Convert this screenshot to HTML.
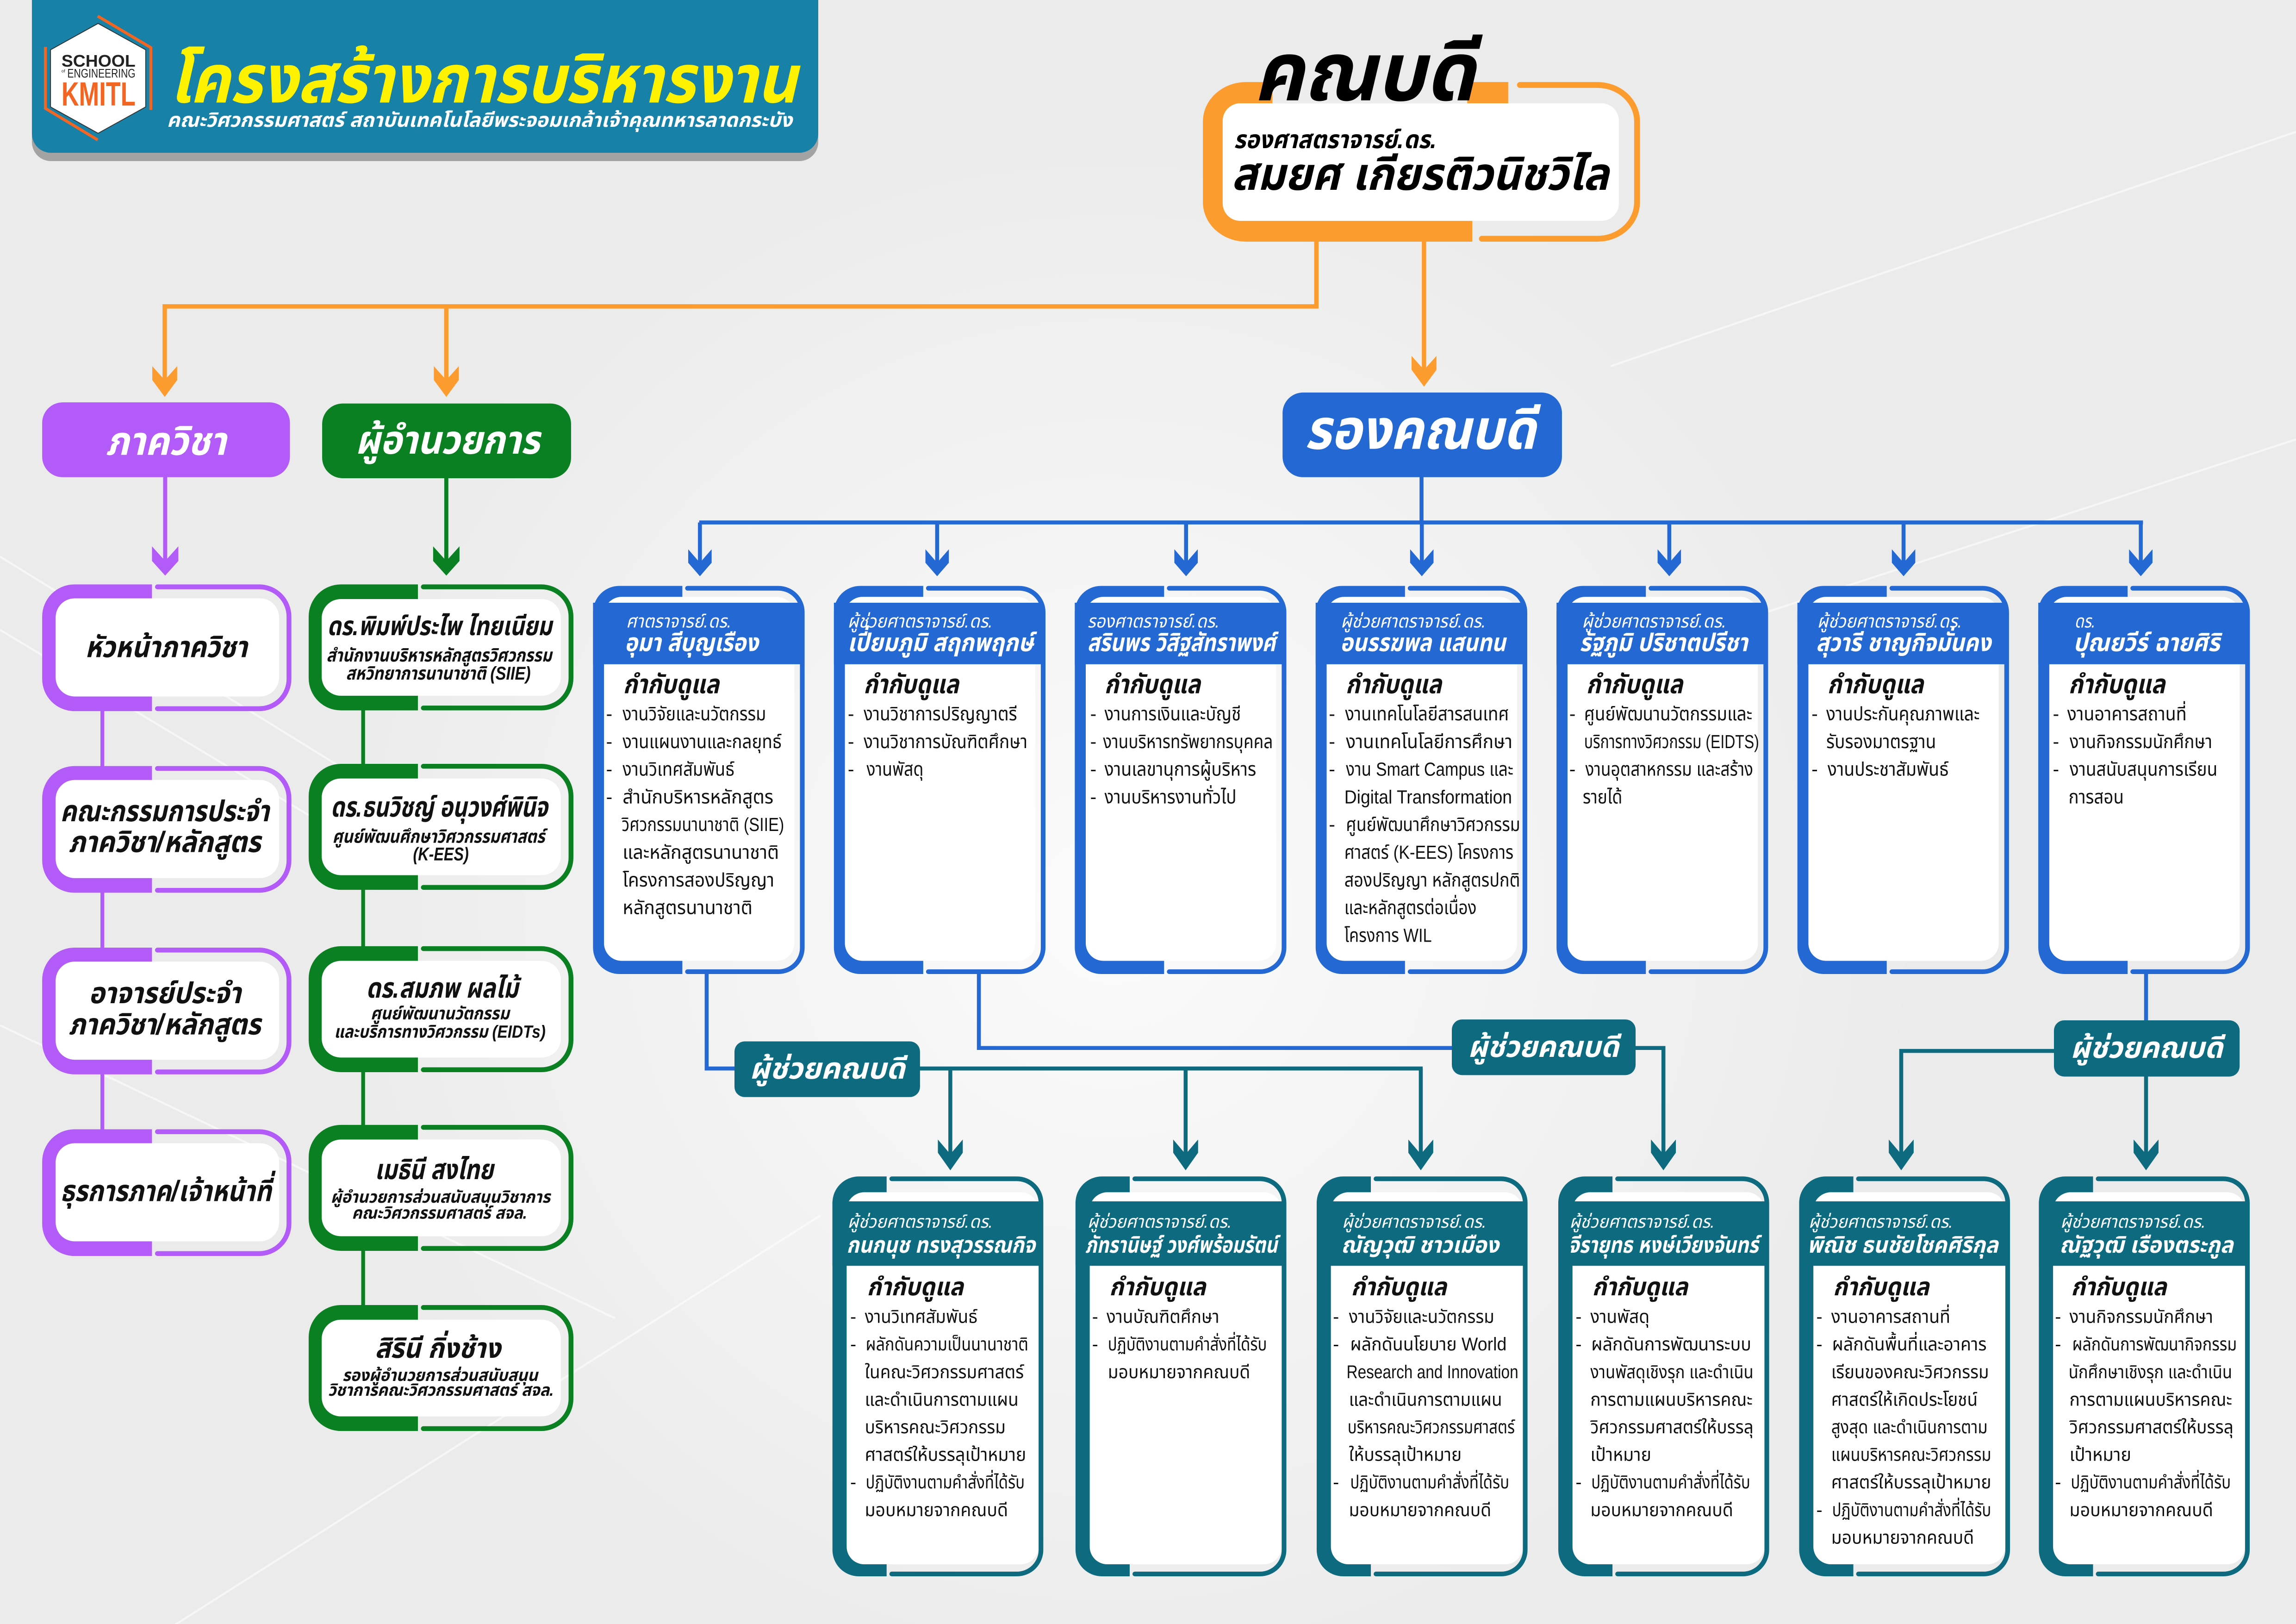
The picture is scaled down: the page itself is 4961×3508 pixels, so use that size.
<!DOCTYPE html>
<html><head><meta charset="utf-8"><title>โครงสร้างการบริหารงาน</title>
<style>
html,body{margin:0;padding:0;background:#ebebeb;}
body{width:4961px;height:3508px;overflow:hidden;}
svg{display:block;}
text{font-family:"Liberation Sans","Noto Sans Thai","Noto Sans Thai UI","Loma","Garuda","Waree","Norasi","Kinnari","Umpush",sans-serif;}
.b{font-weight:bold;font-style:italic;}
.i{font-style:italic;}
.w{fill:#ffffff;}
.k{fill:#111111;}
</style></head>
<body>
<svg xmlns="http://www.w3.org/2000/svg" xmlns:xlink="http://www.w3.org/1999/xlink" width="4961" height="3508" viewBox="0 0 1568 1108.75">
<defs>
<radialGradient id="g1" cx="760" cy="620" r="560" gradientUnits="userSpaceOnUse">
<stop offset="0" stop-color="#ffffff" stop-opacity="0.8"/>
<stop offset="1" stop-color="#ffffff" stop-opacity="0"/>
</radialGradient>
<g id="pc">
<path d="M75,0 H22 A22,22 0 0 0 0,22 V64.5 A22,22 0 0 0 22,86.5 H75 Z" fill="#b35bf8"/>
<path d="M78.7,1.65 H148.2 A20.35,20.35 0 0 1 168.55,22 V64.5 A20.35,20.35 0 0 1 148.2,84.85 H78.7" fill="none" stroke="#b35bf8" stroke-width="3.3" stroke-linecap="round"/>
<rect x="9.2" y="9.5" width="152.6" height="67" rx="13" fill="#ffffff"/>
</g>
<g id="gc">
<path d="M74.6,0 H22 A22,22 0 0 0 0,22 V64 A22,22 0 0 0 22,86 H74.6 Z" fill="#0a8022"/>
<path d="M78.3,1.65 H158.8 A20.35,20.35 0 0 1 179.15,22 V64 A20.35,20.35 0 0 1 158.8,84.35 H78.3" fill="none" stroke="#0a8022" stroke-width="3.3" stroke-linecap="round"/>
<rect x="8.9" y="10" width="163.3" height="66" rx="13" fill="#ffffff"/>
</g>
<g id="bc">
<path d="M61,0 H18 A18,18 0 0 0 0,18 V247 A18,18 0 0 0 18,265 H61 Z" fill="#2368d3"/>
<path d="M64.5,1.6 H126.5 A16.4,16.4 0 0 1 142.9,18 V247 A16.4,16.4 0 0 1 126.5,263.4 H64.5" fill="none" stroke="#2368d3" stroke-width="3.2" stroke-linecap="round"/>
<rect x="7.5" y="7.5" width="130" height="248.5" rx="12" fill="#ffffff"/>
<rect x="0" y="11.5" width="143" height="42" fill="#2368d3"/>
</g>
<g id="tc">
<path d="M37,0 H18 A18,18 0 0 0 0,18 V255 A18,18 0 0 0 18,273 H37 Z" fill="#0d6a7f"/>
<path d="M40.5,1.6 H126 A16.4,16.4 0 0 1 142.4,18 V255 A16.4,16.4 0 0 1 126,271.4 H40.5" fill="none" stroke="#0d6a7f" stroke-width="3.2" stroke-linecap="round"/>
<rect x="9.7" y="10.8" width="131" height="254" rx="12" fill="#ffffff"/>
<rect x="0" y="17" width="142.5" height="44" fill="#0d6a7f"/>
</g>
</defs>

<!-- background -->
<rect x="0" y="0" width="1568" height="1109" fill="#ebebeb"/>
<rect x="0" y="0" width="1568" height="1109" fill="url(#g1)"/>
<g stroke="#ffffff" stroke-opacity="0.55" fill="none" stroke-width="1.4">
<path d="M0,380 L340,590"/>
<path d="M0,430 L250,580"/>
<path d="M0,700 L420,900"/>
<path d="M120,1109 L560,830"/>
<path d="M1100,250 L1568,90"/>
<path d="M1200,420 L1568,300"/>
</g>

<!-- header banner -->
<rect x="21.8" y="-20" width="537" height="130" rx="13" fill="#a3a3a3"/>
<rect x="21.8" y="-20" width="537" height="124.3" rx="13" fill="#1781a7"/>
<polygon points="67,16 99.5,34 99.5,73 67,91 34.5,73 34.5,34" fill="#ffffff" stroke="#333333" stroke-width="0.6"/>
<path d="M66.7,11 L103,32.5 V75" fill="none" stroke="#f26522" stroke-width="2"/>
<path d="M31,32 V74 L66.7,95.5" fill="none" stroke="#f26522" stroke-width="2"/>
<text x="42" y="45.5" font-size="11.5" font-weight="bold" fill="#222222" textLength="50.5" lengthAdjust="spacingAndGlyphs">SCHOOL</text>
<text x="42" y="49.5" font-size="3" fill="#222222">of</text>
<text x="46" y="53" font-size="8.5" fill="#222222" textLength="46.5" lengthAdjust="spacingAndGlyphs">ENGINEERING</text>
<text x="42" y="72" font-size="23" font-weight="bold" fill="#f26522" textLength="50.5" lengthAdjust="spacingAndGlyphs">KMITL</text>
<text class="b" x="115.4" y="70" font-size="46" fill="#fff200" textLength="428.9" lengthAdjust="spacingAndGlyphs">โครงสร้างการบริหารงาน</text>
<text class="b w" x="114" y="86.6" font-size="13.5" textLength="427" lengthAdjust="spacingAndGlyphs">คณะวิศวกรรมศาสตร์ สถาบันเทคโนโลยีพระจอมเกล้าเจ้าคุณทหารลาดกระบัง</text>

<!-- dean -->
<path d="M851,56 H1030 V100 H1005.5 V165 H851 A29.5,27 0 0 1 821.5,138 V83 A29.5,27 0 0 1 851,56 Z" fill="#fd9c2e"/>
<rect x="869" y="54" width="133" height="16.5" fill="#ededed"/>
<path d="M1038,58 H1091 A27,25 0 0 1 1118,83 V138 A27,25 0 0 1 1091,163 H1012" fill="none" stroke="#fd9c2e" stroke-width="4" stroke-linecap="round"/>
<rect x="835" y="70.5" width="270.6" height="80.3" rx="12" fill="#ffffff"/>
<text class="b" x="856" y="68.5" font-size="56" fill="#000000" textLength="151" lengthAdjust="spacingAndGlyphs">คณบดี</text>
<text class="b" x="842.6" y="101.1" font-size="17" fill="#000000" textLength="138.4" lengthAdjust="spacingAndGlyphs">รองศาสตราจารย์.ดร.</text>
<text class="b" x="841" y="129.6" font-size="31" fill="#000000" textLength="257.6" lengthAdjust="spacingAndGlyphs">สมยศ เกียรติวนิชวิไล</text>

<!-- orange connectors -->
<g fill="none" stroke="#fd9c2e" stroke-width="3">
<path d="M899,163 V209.2 H112.5 V262"/>
<path d="M304.8,209.2 V262"/>
<path d="M972.5,163 V255"/>
</g>
<g fill="#fd9c2e">
<polygon points="104,250 112.5,259.5 121,250 121,259.5 112.5,271 104,259.5"/>
<polygon points="296.3,250 304.8,259.5 313.3,250 313.3,259.5 304.8,271 296.3,259.5"/>
<polygon points="964,243 972.5,252.5 981,243 981,252.5 972.5,264 964,252.5"/>
</g>

<!-- pills -->
<rect x="28.8" y="274.7" width="169.2" height="51.1" rx="14" fill="#b35bf8"/>
<text class="b w" x="72.2" y="310.5" font-size="27" textLength="82.2" lengthAdjust="spacingAndGlyphs">ภาควิชา</text>
<rect x="220" y="275.5" width="170" height="51" rx="14" fill="#0a8022"/>
<text class="b w" x="242.7" y="309.8" font-size="27" textLength="125.8" lengthAdjust="spacingAndGlyphs">ผู้อำนวยการ</text>
<rect x="875.9" y="268" width="190.8" height="57.8" rx="14" fill="#2368d3"/>
<text class="b w" x="891" y="306.4" font-size="38" textLength="157.7" lengthAdjust="spacingAndGlyphs">รองคณบดี</text>

<!-- purple / green stems & arrows -->
<path d="M112.8,325 V385" stroke="#b35bf8" stroke-width="2.8" fill="none"/>
<polygon points="103.8,373 112.8,383 121.8,373 121.8,383 112.8,393 103.8,383" fill="#b35bf8"/>
<path d="M304.8,326 V385" stroke="#0a8022" stroke-width="2.8" fill="none"/>
<polygon points="295.8,373 304.8,383 313.8,373 313.8,383 304.8,393 295.8,383" fill="#0a8022"/>
<path d="M69.9,480 V775" stroke="#b35bf8" stroke-width="2.6" fill="none"/>
<path d="M248,480 V895" stroke="#0a8022" stroke-width="2.6" fill="none"/>

<!-- purple cards -->
<use xlink:href="#pc" href="#pc" x="28.8" y="399"/>
<use xlink:href="#pc" href="#pc" x="28.8" y="523"/>
<use xlink:href="#pc" href="#pc" x="28.8" y="647"/>
<use xlink:href="#pc" href="#pc" x="28.8" y="771"/>
<text class="b k" x="58.1" y="448.6" font-size="20" textLength="110.8" lengthAdjust="spacingAndGlyphs">หัวหน้าภาควิชา</text>
<text class="b k" x="41.2" y="560.7" font-size="20" textLength="142.7" lengthAdjust="spacingAndGlyphs">คณะกรรมการประจำ</text>
<text class="b k" x="46.8" y="581.7" font-size="20" textLength="131.3" lengthAdjust="spacingAndGlyphs">ภาควิชา/หลักสูตร</text>
<text class="b k" x="60.6" y="684.9" font-size="20" textLength="104" lengthAdjust="spacingAndGlyphs">อาจารย์ประจำ</text>
<text class="b k" x="46.8" y="706.3" font-size="20" textLength="131.3" lengthAdjust="spacingAndGlyphs">ภาควิชา/หลักสูตร</text>
<text class="b k" x="41.2" y="820.1" font-size="20" textLength="144.2" lengthAdjust="spacingAndGlyphs">ธุรการภาค/เจ้าหน้าที่</text>

<!-- green cards -->
<use xlink:href="#gc" href="#gc" x="210.8" y="399"/>
<use xlink:href="#gc" href="#gc" x="210.8" y="521.5"/>
<use xlink:href="#gc" href="#gc" x="210.8" y="646"/>
<use xlink:href="#gc" href="#gc" x="210.8" y="768"/>
<use xlink:href="#gc" href="#gc" x="210.8" y="891"/>
<text class="b k" x="223.4" y="433.6" font-size="18" textLength="153.6" lengthAdjust="spacingAndGlyphs">ดร.พิมพ์ประไพ ไทยเนียม</text>
<text class="b k" x="222.9" y="451.6" font-size="12.5" textLength="154" lengthAdjust="spacingAndGlyphs">สำนักงานบริหารหลักสูตรวิศวกรรม</text>
<text class="b k" x="236.2" y="464" font-size="12.5" textLength="126.2" lengthAdjust="spacingAndGlyphs">สหวิทยาการนานาชาติ (SIIE)</text>
<text class="b k" x="225.8" y="557.5" font-size="19" textLength="148.3" lengthAdjust="spacingAndGlyphs">ดร.ธนวิชญ์  อนุวงศ์พินิจ</text>
<text class="b k" x="227" y="575.4" font-size="12.5" textLength="145.1" lengthAdjust="spacingAndGlyphs">ศูนย์พัฒนศึกษาวิศวกรรมศาสตร์</text>
<text class="b k" x="282.1" y="587.4" font-size="12.5" textLength="38" lengthAdjust="spacingAndGlyphs">(K-EES)</text>
<text class="b k" x="250" y="681.1" font-size="19" textLength="104" lengthAdjust="spacingAndGlyphs">ดร.สมภพ ผลไม้</text>
<text class="b k" x="253.1" y="695.9" font-size="12" textLength="94.8" lengthAdjust="spacingAndGlyphs">ศูนย์พัฒนานวัตกรรม</text>
<text class="b k" x="228.2" y="708.5" font-size="12" textLength="144.4" lengthAdjust="spacingAndGlyphs">และบริการทางวิศวกรรม (EIDTs)</text>
<text class="b k" x="256" y="805" font-size="19" textLength="81" lengthAdjust="spacingAndGlyphs">เมธินี สงไทย</text>
<text class="b k" x="225.8" y="821.1" font-size="11.5" textLength="150" lengthAdjust="spacingAndGlyphs">ผู้อำนวยการส่วนสนับสนุนวิชาการ</text>
<text class="b k" x="240.3" y="832" font-size="11.5" textLength="119.7" lengthAdjust="spacingAndGlyphs">คณะวิศวกรรมศาสตร์ สจล.</text>
<text class="b k" x="256" y="927" font-size="19" textLength="85.9" lengthAdjust="spacingAndGlyphs">สิรินี กิ่งช้าง</text>
<text class="b k" x="233.8" y="942.8" font-size="11.5" textLength="133.5" lengthAdjust="spacingAndGlyphs">รองผู้อำนวยการส่วนสนับสนุน</text>
<text class="b k" x="224" y="953" font-size="11.5" textLength="154.2" lengthAdjust="spacingAndGlyphs">วิชาการคณะวิศวกรรมศาสตร์ สจล.</text>

<!-- blue connectors -->
<g fill="none" stroke="#2368d3" stroke-width="2.7">
<path d="M970.8,325 V356.7"/>
<path d="M477.5,356.7 H1463.5"/>
<path d="M478,356.7 V385 M640,356.7 V385 M810,356.7 V385 M971,356.7 V385 M1140,356.7 V385 M1300,356.7 V385 M1462,356.7 V385"/>
<path d="M482.6,664 V729.5 H503"/>
<path d="M668.5,664 V715.5 H993"/>
<path d="M1465.6,664 V698"/>
</g>
<g fill="#2368d3">
<polygon points="470,375 478,384.2 486,375 486,384.2 478,393.4 470,384.2"/>
<polygon points="632,375 640,384.2 648,375 648,384.2 640,393.4 632,384.2"/>
<polygon points="802,375 810,384.2 818,375 818,384.2 810,393.4 802,384.2"/>
<polygon points="963,375 971,384.2 979,375 979,384.2 971,393.4 963,384.2"/>
<polygon points="1132,375 1140,384.2 1148,375 1148,384.2 1140,393.4 1132,384.2"/>
<polygon points="1292,375 1300,384.2 1308,375 1308,384.2 1300,393.4 1292,384.2"/>
<polygon points="1454,375 1462,384.2 1470,375 1470,384.2 1462,393.4 1454,384.2"/>
</g>

<!-- teal connectors -->
<g fill="none" stroke="#0d6a7f" stroke-width="2.7">
<path d="M627,729.5 H971.6"/>
<path d="M649,729.5 V790 M809.7,729.5 V790 M970.3,729.5 V790"/>
<path d="M1116,715.5 H1136 V790"/>
<path d="M1404,717.5 H1298.4 V790"/>
<path d="M1465.6,734 V790"/>
</g>
<g fill="#0d6a7f">
<polygon points="640.5,778 649,788 657.5,778 657.5,787 649,799 640.5,787"/>
<polygon points="801.2,778 809.7,788 818.2,778 818.2,787 809.7,799 801.2,787"/>
<polygon points="961.8,778 970.3,788 978.8,778 978.8,787 970.3,799 961.8,787"/>
<polygon points="1127.5,778 1136,788 1144.5,778 1144.5,787 1136,799 1127.5,787"/>
<polygon points="1289.9,778 1298.4,788 1306.9,778 1306.9,787 1298.4,799 1289.9,787"/>
<polygon points="1457.1,778 1465.6,788 1474.1,778 1474.1,787 1465.6,799 1457.1,787"/>
</g>

<!-- labels -->
<rect x="501.6" y="711" width="126.7" height="38" rx="7" fill="#0d6a7f"/>
<text class="b w" x="512" y="736.4" font-size="20" textLength="106" lengthAdjust="spacingAndGlyphs">ผู้ช่วยคณบดี</text>
<rect x="991.5" y="696" width="125.5" height="38" rx="7" fill="#0d6a7f"/>
<text class="b w" x="1002.5" y="721.6" font-size="20" textLength="103" lengthAdjust="spacingAndGlyphs">ผู้ช่วยคณบดี</text>
<rect x="1402.7" y="696.6" width="126.8" height="38.4" rx="7" fill="#0d6a7f"/>
<text class="b w" x="1414" y="722.2" font-size="20" textLength="104" lengthAdjust="spacingAndGlyphs">ผู้ช่วยคณบดี</text>

<!-- blue cards row 1 -->
<use xlink:href="#bc" href="#bc" x="405" y="400"/>
<use xlink:href="#bc" href="#bc" x="569.5" y="400"/>
<use xlink:href="#bc" href="#bc" x="734" y="400"/>
<use xlink:href="#bc" href="#bc" x="898.5" y="400"/>
<use xlink:href="#bc" href="#bc" x="1063" y="400"/>
<use xlink:href="#bc" href="#bc" x="1227.5" y="400"/>
<use xlink:href="#bc" href="#bc" x="1392" y="400"/>

<!-- card 1 -->
<text class="i w" x="427.6" y="428.5" font-size="12.5" textLength="72" lengthAdjust="spacingAndGlyphs">ศาตราจารย์.ดร.</text>
<text class="b w" x="426.6" y="444.5" font-size="17" textLength="91.3" lengthAdjust="spacingAndGlyphs">อุมา สีบุญเรือง</text>
<text class="b k" x="425.6" y="473.3" font-size="18" textLength="65.5" lengthAdjust="spacingAndGlyphs">กำกับดูแล</text>
<g class="k" font-size="13">
<text x="413.9" y="491.8">-</text><text x="425.2" y="491.8" textLength="98" lengthAdjust="spacingAndGlyphs">งานวิจัยและนวัตกรรม</text>
<text x="413.9" y="510.7">-</text><text x="425.2" y="510.7" textLength="108.6" lengthAdjust="spacingAndGlyphs">งานแผนงานและกลยุทธ์</text>
<text x="413.9" y="529.6">-</text><text x="425.2" y="529.6" textLength="76.4" lengthAdjust="spacingAndGlyphs">งานวิเทศสัมพันธ์</text>
<text x="413.9" y="548.5">-</text><text x="425.2" y="548.5" textLength="103" lengthAdjust="spacingAndGlyphs">สำนักบริหารหลักสูตร</text>
<text x="424.6" y="567.4" textLength="110.9" lengthAdjust="spacingAndGlyphs">วิศวกรรมนานาชาติ (SIIE)</text>
<text x="425.2" y="586.3" textLength="106.8" lengthAdjust="spacingAndGlyphs">และหลักสูตรนานาชาติ</text>
<text x="425.2" y="605.2" textLength="103.6" lengthAdjust="spacingAndGlyphs">โครงการสองปริญญา</text>
<text x="425.2" y="624.1" textLength="88.7" lengthAdjust="spacingAndGlyphs">หลักสูตรนานาชาติ</text>
</g>

<!-- card 2 -->
<text class="i w" x="578.8" y="428.5" font-size="12.5" textLength="99.2" lengthAdjust="spacingAndGlyphs">ผู้ช่วยศาตราจารย์.ดร.</text>
<text class="b w" x="578.8" y="444.5" font-size="17" textLength="127" lengthAdjust="spacingAndGlyphs">เปี่ยมภูมิ  สฤกพฤกษ์</text>
<text class="b k" x="589.8" y="473.3" font-size="18" textLength="65" lengthAdjust="spacingAndGlyphs">กำกับดูแล</text>
<g class="k" font-size="13">
<text x="579" y="491.8">-</text><text x="589.8" y="491.8" textLength="104.8" lengthAdjust="spacingAndGlyphs">งานวิชาการปริญญาตรี</text>
<text x="579" y="510.7">-</text><text x="589.8" y="510.7" textLength="111.9" lengthAdjust="spacingAndGlyphs">งานวิชาการบัณฑิตศึกษา</text>
<text x="579" y="529.6">-</text><text x="591.8" y="529.6" textLength="38.9" lengthAdjust="spacingAndGlyphs">งานพัสดุ</text>
</g>

<!-- card 3 -->
<text class="i w" x="742.6" y="428.5" font-size="12.5" textLength="90.3" lengthAdjust="spacingAndGlyphs">รองศาตราจารย์.ดร.</text>
<text class="b w" x="742.6" y="444.5" font-size="17" textLength="128.6" lengthAdjust="spacingAndGlyphs">สรินพร วิสิฐสัทราพงศ์</text>
<text class="b k" x="754.3" y="473.3" font-size="18" textLength="65.5" lengthAdjust="spacingAndGlyphs">กำกับดูแล</text>
<g class="k" font-size="13">
<text x="744.5" y="491.8">-</text><text x="754.3" y="491.8" textLength="93.2" lengthAdjust="spacingAndGlyphs">งานการเงินและบัญชี</text>
<text x="744.5" y="510.7">-</text><text x="753.3" y="510.7" textLength="116" lengthAdjust="spacingAndGlyphs">งานบริหารทรัพยากรบุคคล</text>
<text x="744.5" y="529.6">-</text><text x="754.3" y="529.6" textLength="103.6" lengthAdjust="spacingAndGlyphs">งานเลขานุการผู้บริหาร</text>
<text x="744.5" y="548.5">-</text><text x="754.3" y="548.5" textLength="90.1" lengthAdjust="spacingAndGlyphs">งานบริหารงานทั่วไป</text>
</g>

<!-- card 4 -->
<text class="i w" x="915.6" y="428.5" font-size="12.5" textLength="99.2" lengthAdjust="spacingAndGlyphs">ผู้ช่วยศาตราจารย์.ดร.</text>
<text class="b w" x="915.3" y="444.5" font-size="17" textLength="113" lengthAdjust="spacingAndGlyphs">อนรรฆพล แสนทน</text>
<text class="b k" x="919" y="473.3" font-size="18" textLength="65.5" lengthAdjust="spacingAndGlyphs">กำกับดูแล</text>
<g class="k" font-size="13">
<text x="907.5" y="491.8">-</text><text x="918.6" y="491.8" textLength="111.9" lengthAdjust="spacingAndGlyphs">งานเทคโนโลยีสารสนเทศ</text>
<text x="907.5" y="510.7">-</text><text x="919.2" y="510.7" textLength="113.7" lengthAdjust="spacingAndGlyphs">งานเทคโนโลยีการศึกษา</text>
<text x="907.5" y="529.6">-</text><text x="919.2" y="529.6" textLength="114.3" lengthAdjust="spacingAndGlyphs">งาน Smart Campus และ</text>
<text x="918.1" y="548.5" textLength="114.5" lengthAdjust="spacingAndGlyphs">Digital Transformation</text>
<text x="907.5" y="567.4">-</text><text x="919.2" y="567.4" textLength="119" lengthAdjust="spacingAndGlyphs">ศูนย์พัฒนาศึกษาวิศวกรรม</text>
<text x="918.1" y="586.3" textLength="115.5" lengthAdjust="spacingAndGlyphs">ศาสตร์ (K-EES) โครงการ</text>
<text x="918.1" y="605.2" textLength="120" lengthAdjust="spacingAndGlyphs">สองปริญญา หลักสูตรปกติ</text>
<text x="918.1" y="624.1" textLength="90.3" lengthAdjust="spacingAndGlyphs">และหลักสูตรต่อเนื่อง</text>
<text x="918.1" y="643" textLength="59.7" lengthAdjust="spacingAndGlyphs">โครงการ WIL</text>
</g>

<!-- card 5 -->
<text class="i w" x="1080.3" y="428.5" font-size="12.5" textLength="98.7" lengthAdjust="spacingAndGlyphs">ผู้ช่วยศาตราจารย์.ดร.</text>
<text class="b w" x="1078.7" y="444.5" font-size="17" textLength="114.9" lengthAdjust="spacingAndGlyphs">รัฐภูมิ ปริชาตปรีชา</text>
<text class="b k" x="1083.3" y="473.3" font-size="18" textLength="65.9" lengthAdjust="spacingAndGlyphs">กำกับดูแล</text>
<g class="k" font-size="13">
<text x="1071.7" y="491.8">-</text><text x="1081.8" y="491.8" textLength="114.9" lengthAdjust="spacingAndGlyphs">ศูนย์พัฒนานวัตกรรมและ</text>
<text x="1081.8" y="510.7" textLength="119.5" lengthAdjust="spacingAndGlyphs">บริการทางวิศวกรรม (EIDTS)</text>
<text x="1071.7" y="529.6">-</text><text x="1082.7" y="529.6" textLength="114.6" lengthAdjust="spacingAndGlyphs">งานอุตสาหกรรม และสร้าง</text>
<text x="1080.9" y="548.5" textLength="27" lengthAdjust="spacingAndGlyphs">รายได้</text>
</g>

<!-- card 6 -->
<text class="i w" x="1241" y="428.5" font-size="12.5" textLength="99" lengthAdjust="spacingAndGlyphs">ผู้ช่วยศาตราจารย์.ดร.</text>
<text class="b w" x="1240.2" y="444.5" font-size="17" textLength="119.5" lengthAdjust="spacingAndGlyphs">สุวารี ชาญกิจมั่นคง</text>
<text class="b k" x="1248" y="473.3" font-size="18" textLength="65.6" lengthAdjust="spacingAndGlyphs">กำกับดูแล</text>
<g class="k" font-size="13">
<text x="1237.1" y="491.8">-</text><text x="1247.2" y="491.8" textLength="104.8" lengthAdjust="spacingAndGlyphs">งานประกันคุณภาพและ</text>
<text x="1247.2" y="510.7" textLength="75" lengthAdjust="spacingAndGlyphs">รับรองมาตรฐาน</text>
<text x="1237.1" y="529.6">-</text><text x="1248.1" y="529.6" textLength="82.7" lengthAdjust="spacingAndGlyphs">งานประชาสัมพันธ์</text>
</g>

<!-- card 7 -->
<text class="i w" x="1416.7" y="428.5" font-size="12.5" textLength="14.4" lengthAdjust="spacingAndGlyphs">ดร.</text>
<text class="b w" x="1415.8" y="444.5" font-size="17" textLength="100.2" lengthAdjust="spacingAndGlyphs">ปุณยวีร์  ฉายศิริ</text>
<text class="b k" x="1412.7" y="473.3" font-size="18" textLength="65.9" lengthAdjust="spacingAndGlyphs">กำกับดูแล</text>
<g class="k" font-size="13">
<text x="1401.9" y="491.8">-</text><text x="1411.8" y="491.8" textLength="81.5" lengthAdjust="spacingAndGlyphs">งานอาคารสถานที่</text>
<text x="1401.9" y="510.7">-</text><text x="1413.4" y="510.7" textLength="97.4" lengthAdjust="spacingAndGlyphs">งานกิจกรรมนักศึกษา</text>
<text x="1401.9" y="529.6">-</text><text x="1413.4" y="529.6" textLength="101" lengthAdjust="spacingAndGlyphs">งานสนับสนุนการเรียน</text>
<text x="1412.7" y="548.5" textLength="37.7" lengthAdjust="spacingAndGlyphs">การสอน</text>
</g>

<!-- teal cards row 2 -->
<use xlink:href="#tc" href="#tc" x="568.5" y="803.2"/>
<use xlink:href="#tc" href="#tc" x="734.5" y="803.2"/>
<use xlink:href="#tc" href="#tc" x="899.2" y="803.2"/>
<use xlink:href="#tc" href="#tc" x="1064.2" y="803.2"/>
<use xlink:href="#tc" href="#tc" x="1228.7" y="803.2"/>
<use xlink:href="#tc" href="#tc" x="1392.4" y="803.2"/>

<!-- t card 1 -->
<text class="i w" x="578.8" y="838.2" font-size="12" textLength="99.3" lengthAdjust="spacingAndGlyphs">ผู้ช่วยศาตราจารย์.ดร.</text>
<text class="b w" x="578.2" y="855.3" font-size="15.5" textLength="128.8" lengthAdjust="spacingAndGlyphs">กนกนุช ทรงสุวรรณกิจ</text>
<text class="b k" x="592.1" y="884.3" font-size="17" textLength="65.8" lengthAdjust="spacingAndGlyphs">กำกับดูแล</text>
<g class="k" font-size="12.5">
<text x="580.6" y="903.2">-</text><text x="590.6" y="903.2" textLength="77" lengthAdjust="spacingAndGlyphs">งานวิเทศสัมพันธ์</text>
<text x="580.6" y="922">-</text><text x="591.2" y="922" textLength="111.1" lengthAdjust="spacingAndGlyphs">ผลักดันความเป็นนานาชาติ</text>
<text x="590.6" y="940.9" textLength="108.6" lengthAdjust="spacingAndGlyphs">ในคณะวิศวกรรมศาสตร์</text>
<text x="590.6" y="959.7" textLength="105" lengthAdjust="spacingAndGlyphs">และดำเนินการตามแผน</text>
<text x="590.6" y="978.6" textLength="96.2" lengthAdjust="spacingAndGlyphs">บริหารคณะวิศวกรรม</text>
<text x="590.6" y="997.4" textLength="110.2" lengthAdjust="spacingAndGlyphs">ศาสตร์ให้บรรลุเป้าหมาย</text>
<text x="580.6" y="1016.2">-</text><text x="591.2" y="1016.2" textLength="108.6" lengthAdjust="spacingAndGlyphs">ปฏิบัติงานตามคำสั่งที่ได้รับ</text>
<text x="590.6" y="1035.1" textLength="97.8" lengthAdjust="spacingAndGlyphs">มอบหมายจากคณบดี</text>
</g>

<!-- t card 2 -->
<text class="i w" x="742.6" y="838.2" font-size="12" textLength="98.7" lengthAdjust="spacingAndGlyphs">ผู้ช่วยศาตราจารย์.ดร.</text>
<text class="b w" x="741.1" y="855.3" font-size="15.5" textLength="131.3" lengthAdjust="spacingAndGlyphs">ภัทรานิษฐ์ วงศ์พร้อมรัตน์</text>
<text class="b k" x="757.6" y="884.3" font-size="17" textLength="65.8" lengthAdjust="spacingAndGlyphs">กำกับดูแล</text>
<g class="k" font-size="12.5">
<text x="745.8" y="903.2">-</text><text x="755.7" y="903.2" textLength="77" lengthAdjust="spacingAndGlyphs">งานบัณฑิตศึกษา</text>
<text x="745.8" y="922">-</text><text x="756.6" y="922" textLength="108.6" lengthAdjust="spacingAndGlyphs">ปฏิบัติงานตามคำสั่งที่ได้รับ</text>
<text x="756.6" y="940.9" textLength="97.2" lengthAdjust="spacingAndGlyphs">มอบหมายจากคณบดี</text>
</g>

<!-- t card 3 -->
<text class="i w" x="916.5" y="838.2" font-size="12" textLength="98.7" lengthAdjust="spacingAndGlyphs">ผู้ช่วยศาตราจารย์.ดร.</text>
<text class="b w" x="915.9" y="855.3" font-size="15.5" textLength="107.7" lengthAdjust="spacingAndGlyphs">ณัญวุฒิ ชาวเมือง</text>
<text class="b k" x="922.7" y="884.3" font-size="17" textLength="65.2" lengthAdjust="spacingAndGlyphs">กำกับดูแล</text>
<g class="k" font-size="12.5">
<text x="910.3" y="903.2">-</text><text x="921.2" y="903.2" textLength="99.3" lengthAdjust="spacingAndGlyphs">งานวิจัยและนวัตกรรม</text>
<text x="910.3" y="922">-</text><text x="922.1" y="922" textLength="106.8" lengthAdjust="spacingAndGlyphs">ผลักดันนโยบาย World</text>
<text x="919.6" y="940.9" textLength="117.3" lengthAdjust="spacingAndGlyphs">Research and Innovation</text>
<text x="921.2" y="959.7" textLength="104.6" lengthAdjust="spacingAndGlyphs">และดำเนินการตามแผน</text>
<text x="920.3" y="978.6" textLength="114.2" lengthAdjust="spacingAndGlyphs">บริหารคณะวิศวกรรมศาสตร์</text>
<text x="921.2" y="997.4" textLength="77" lengthAdjust="spacingAndGlyphs">ให้บรรลุเป้าหมาย</text>
<text x="910.3" y="1016.2">-</text><text x="922.1" y="1016.2" textLength="108.6" lengthAdjust="spacingAndGlyphs">ปฏิบัติงานตามคำสั่งที่ได้รับ</text>
<text x="921.2" y="1035.1" textLength="97.2" lengthAdjust="spacingAndGlyphs">มอบหมายจากคณบดี</text>
</g>

<!-- t card 4 -->
<text class="i w" x="1071.8" y="838.2" font-size="12" textLength="99.3" lengthAdjust="spacingAndGlyphs">ผู้ช่วยศาตราจารย์.ดร.</text>
<text class="b w" x="1071.2" y="855.3" font-size="15.5" textLength="129.7" lengthAdjust="spacingAndGlyphs">จีรายุทธ หงษ์เวียงจันทร์</text>
<text class="b k" x="1087.4" y="884.3" font-size="17" textLength="65.2" lengthAdjust="spacingAndGlyphs">กำกับดูแล</text>
<g class="k" font-size="12.5">
<text x="1076" y="903.2">-</text><text x="1086.1" y="903.2" textLength="40.4" lengthAdjust="spacingAndGlyphs">งานพัสดุ</text>
<text x="1076" y="922">-</text><text x="1086.7" y="922" textLength="109.3" lengthAdjust="spacingAndGlyphs">ผลักดันการพัฒนาระบบ</text>
<text x="1086.1" y="940.9" textLength="111.4" lengthAdjust="spacingAndGlyphs">งานพัสดุเชิงรุก และดำเนิน</text>
<text x="1086.1" y="959.7" textLength="110.8" lengthAdjust="spacingAndGlyphs">การตามแผนบริหารคณะ</text>
<text x="1086.1" y="978.6" textLength="111.4" lengthAdjust="spacingAndGlyphs">วิศวกรรมศาสตร์ให้บรรลุ</text>
<text x="1086.1" y="997.4" textLength="41.6" lengthAdjust="spacingAndGlyphs">เป้าหมาย</text>
<text x="1076" y="1016.2">-</text><text x="1086.7" y="1016.2" textLength="108.6" lengthAdjust="spacingAndGlyphs">ปฏิบัติงานตามคำสั่งที่ได้รับ</text>
<text x="1086.1" y="1035.1" textLength="97.5" lengthAdjust="spacingAndGlyphs">มอบหมายจากคณบดี</text>
</g>

<!-- t card 5 -->
<text class="i w" x="1235.1" y="838.2" font-size="12" textLength="98.7" lengthAdjust="spacingAndGlyphs">ผู้ช่วยศาตราจารย์.ดร.</text>
<text class="b w" x="1234.2" y="855.3" font-size="15.5" textLength="130.4" lengthAdjust="spacingAndGlyphs">พิณิช ธนชัยโชคศิริกุล</text>
<text class="b k" x="1251.9" y="884.3" font-size="17" textLength="65.5" lengthAdjust="spacingAndGlyphs">กำกับดูแล</text>
<g class="k" font-size="12.5">
<text x="1240.4" y="903.2">-</text><text x="1250.6" y="903.2" textLength="81.3" lengthAdjust="spacingAndGlyphs">งานอาคารสถานที่</text>
<text x="1240.4" y="922">-</text><text x="1251.2" y="922" textLength="105.5" lengthAdjust="spacingAndGlyphs">ผลักดันพื้นที่และอาคาร</text>
<text x="1250.6" y="940.9" textLength="107.7" lengthAdjust="spacingAndGlyphs">เรียนของคณะวิศวกรรม</text>
<text x="1250.6" y="959.7" textLength="100" lengthAdjust="spacingAndGlyphs">ศาสตร์ให้เกิดประโยชน์</text>
<text x="1250.6" y="978.6" textLength="106.8" lengthAdjust="spacingAndGlyphs">สูงสุด และดำเนินการตาม</text>
<text x="1250.6" y="997.4" textLength="109.3" lengthAdjust="spacingAndGlyphs">แผนบริหารคณะวิศวกรรม</text>
<text x="1250.6" y="1016.2" textLength="109.3" lengthAdjust="spacingAndGlyphs">ศาสตร์ให้บรรลุเป้าหมาย</text>
<text x="1240.4" y="1035.1">-</text><text x="1251.2" y="1035.1" textLength="108.6" lengthAdjust="spacingAndGlyphs">ปฏิบัติงานตามคำสั่งที่ได้รับ</text>
<text x="1250.6" y="1053.9" textLength="97.5" lengthAdjust="spacingAndGlyphs">มอบหมายจากคณบดี</text>
</g>

<!-- t card 6 -->
<text class="i w" x="1407.1" y="838.2" font-size="12" textLength="99.3" lengthAdjust="spacingAndGlyphs">ผู้ช่วยศาตราจารย์.ดร.</text>
<text class="b w" x="1406.5" y="855.3" font-size="15.5" textLength="118.6" lengthAdjust="spacingAndGlyphs">ณัฐวุฒิ เรืองตระกูล</text>
<text class="b k" x="1414.4" y="884.3" font-size="17" textLength="65.2" lengthAdjust="spacingAndGlyphs">กำกับดูแล</text>
<g class="k" font-size="12.5">
<text x="1403.4" y="903.2">-</text><text x="1413.3" y="903.2" textLength="98.1" lengthAdjust="spacingAndGlyphs">งานกิจกรรมนักศึกษา</text>
<text x="1403.4" y="922">-</text><text x="1415.2" y="922" textLength="112.4" lengthAdjust="spacingAndGlyphs">ผลักดันการพัฒนากิจกรรม</text>
<text x="1412.7" y="940.9" textLength="111.7" lengthAdjust="spacingAndGlyphs">นักศึกษาเชิงรุก และดำเนิน</text>
<text x="1413.3" y="959.7" textLength="111.1" lengthAdjust="spacingAndGlyphs">การตามแผนบริหารคณะ</text>
<text x="1413.3" y="978.6" textLength="112" lengthAdjust="spacingAndGlyphs">วิศวกรรมศาสตร์ให้บรรลุ</text>
<text x="1413.3" y="997.4" textLength="42.2" lengthAdjust="spacingAndGlyphs">เป้าหมาย</text>
<text x="1403.4" y="1016.2">-</text><text x="1414.2" y="1016.2" textLength="109.3" lengthAdjust="spacingAndGlyphs">ปฏิบัติงานตามคำสั่งที่ได้รับ</text>
<text x="1413.3" y="1035.1" textLength="98.1" lengthAdjust="spacingAndGlyphs">มอบหมายจากคณบดี</text>
</g>
</svg>
</body></html>
